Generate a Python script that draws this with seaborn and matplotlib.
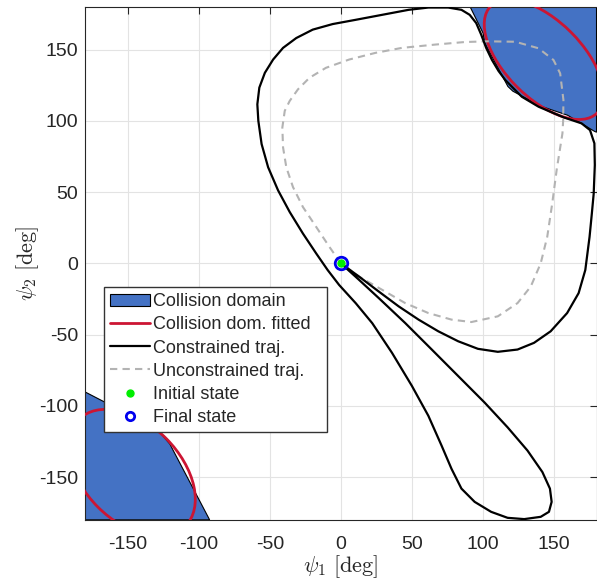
import numpy as np
import pandas as pd
import matplotlib
matplotlib.use("Agg")
import matplotlib.pyplot as plt
import seaborn as sns
from matplotlib.patches import Ellipse, Patch
from matplotlib.lines import Line2D

# collision domain polygons (deg)
dom_tr_x = [91, 100.1, 101.3, 117.6, 121.1, 141, 159.7, 178.6, 180, 180]
dom_tr_y = [180, 161.6, 154.6, 124.1, 120.8, 110.2, 103.9, 92.6, 92, 180]
dom_bl_x = [-180, -167, -145, -128, -120.4, -92.4, -180]
dom_bl_y = [-90.3, -97, -108, -118, -126.8, -180, -180]

# fitted ellipses: center, diagonal / anti-diagonal diameters
ell_centers = [(143, 143), (-147, -147)]
ell_diag = [54, 68]
ell_anti = [106, 106]

# constrained trajectory
con_x = [0, 12.8, 26.7, 45.3, 64, 82.6, 101.2, 117.4, 131.4, 141.9, 147.2, 148.4, 146.5,
         140.7, 129.1, 117.4, 105.8, 94.2, 84.9, 77.9, 70.9, 61.6, 50, 36, 22.1, 10.5,
         -1.2, -9.3, -17.4, -26.7, -36, -44.2, -51.2, -55.8, -58.1, -58.8, -57.4, -53.5,
         -47.7, -40.7, -31.4, -19.8, -5.8, 10.5, 29.1, 47.7, 61.6, 75.6, 84.9, 90.7, 95.3,
         98.8, 102.3, 106.4, 111, 115.8, 127.4, 139.2, 156.7, 169.5, 175.4, 178.5, 178.8,
         178, 176.7, 175.1, 172.1, 167.4, 159.3, 147.7, 136, 124.4, 110.5, 96.5, 82.6,
         68.6, 54.7, 40.7, 26.7, 12.8, 0]
con_y = [0, -11.6, -24.4, -41.9, -60.5, -79.1, -97.7, -115.1, -131.4, -146.5, -158.1,
         -167.4, -174.4, -177.9, -179.5, -178.6, -174.4, -167.4, -158.1, -144.2, -127.9,
         -107, -86, -62.8, -42, -28, -15.2, -4.7, 7, 20.9, 36, 51.2, 67.4, 83.7, 100, 111.6,
         123.3, 133.7, 143, 151.2, 158.1, 164, 167.9, 170.9, 174.4, 177.9, 179.5, 179.5,
         177.9, 174.4, 168.6, 160.5, 151.2, 142.7, 135, 128.6, 116.9, 109.9, 102.5, 98.2,
         93.5, 84.2, 69, 48.8, 34.9, 18.6, -4.7, -20.9, -34.9, -47.7, -55.8, -60.5, -62.1,
         -60, -54.7, -47.7, -39.5, -30.2, -19.8, -9.3, 0]

# unconstrained trajectory
unc_x = [0, -8.1, -17.4, -26.7, -33.7, -38.4, -40.7, -41.2, -39.5, -36, -30.2, -22.1,
         -10.5, 5.8, 24.4, 43, 66.3, 87.2, 103.5, 122.8, 139.2, 149.7, 154.4, 156.7, 156.5,
         156, 152, 148.8, 145.3, 140.7, 133.7, 124.4, 110.5, 91.9, 77.9, 61.6, 45.3, 29.1,
         12.8, 0]
unc_y = [0, 11.6, 25.6, 39.5, 53.5, 67.4, 81.4, 95.3, 107, 114, 122.1, 130.2, 137.2, 143,
         147.7, 151.2, 153.5, 155.3, 155.8, 155.5, 150.9, 142.7, 133.3, 114.6, 100, 91.2,
         66, 41.9, 18.6, 0, -16.3, -27.9, -37.2, -41.2, -39.5, -34.9, -27.9, -18.6, -9.3, 0]

init_state = (0, 0)
final_state = (0, 0)

ticks = [-150, -100, -50, 0, 50, 100, 150]

sns.set_style("white")
plt.rcParams['font.family'] = ['Liberation Sans', 'DejaVu Sans']
plt.rcParams['mathtext.fontset'] = 'cm'
plt.rcParams['axes.unicode_minus'] = False

blue = '#4472C4'
red = '#CC1533'
grey = '#B3B3B3'
axc = '#262626'

fig = plt.figure(figsize=(5.97, 5.84), dpi=100)
ax = fig.add_axes([0.1427, 0.1099, 0.8565, 0.8784])

ax.fill(dom_tr_x, dom_tr_y, facecolor=blue, edgecolor='k', lw=0.8, zorder=2)
ax.fill(dom_bl_x, dom_bl_y, facecolor=blue, edgecolor='k', lw=0.8, zorder=2)

for c, d, a in zip(ell_centers, ell_diag, ell_anti):
    ax.add_patch(Ellipse(c, width=d, height=a, angle=45, fill=False,
                         edgecolor=red, lw=2, zorder=3))

con = pd.DataFrame({'psi1': con_x, 'psi2': con_y})
unc = pd.DataFrame({'psi1': unc_x, 'psi2': unc_y})
sns.lineplot(data=unc, x='psi1', y='psi2', sort=False, estimator=None, color=grey,
             lw=1.5, linestyle=(0, (3.5, 2.5)), ax=ax, zorder=4)
sns.lineplot(data=con, x='psi1', y='psi2', sort=False, estimator=None, color='k',
             lw=1.6, ax=ax, zorder=5, solid_joinstyle='round')

ax.plot(*init_state, 'o', color='#00EE00', ms=5, zorder=6)
ax.plot(*final_state, 'o', mfc='none', mec='#0000EE', mew=2, ms=9, zorder=7)

ax.set_xlim(-180, 180)
ax.set_ylim(-180, 180)
ax.set_xticks(ticks)
ax.set_yticks(ticks)
ax.grid(True, color='#E3E3E3', lw=0.8)
ax.set_axisbelow(True)
for s in ax.spines.values():
    s.set_color(axc)
    s.set_linewidth(0.8)
ax.tick_params(direction='in', length=5, width=0.8, color=axc, labelcolor=axc,
               labelsize=14, top=True, right=True)
ax.tick_params(axis='x', pad=12)
ax.tick_params(axis='y', pad=5)
ax.set_xlabel(r'$\psi_1\ \mathrm{[deg]}$', fontsize=16, color=axc, labelpad=0)
ax.set_ylabel(r'$\psi_2\ \mathrm{[deg]}$', fontsize=16, color=axc, labelpad=-1)

handles = [
    Patch(facecolor=blue, edgecolor='k', lw=0.8, label='Collision domain'),
    Line2D([], [], color=red, lw=2, label='Collision dom. fitted'),
    Line2D([], [], color='k', lw=1.6, label='Constrained traj.'),
    Line2D([], [], color=grey, lw=1.5, ls=(0, (3.5, 2.5)), label='Unconstrained traj.'),
    Line2D([], [], ls='none', marker='o', color='#00EE00', ms=5, label='Initial state'),
    Line2D([], [], ls='none', marker='o', mfc='none', mec='#0000EE', mew=2, ms=6,
           label='Final state'),
]
leg = ax.legend(handles=handles, loc='upper left', bbox_to_anchor=(0.0368, 0.1711, 0.436, 0.2827),
                mode='expand', borderaxespad=0, fontsize=13, fancybox=False, framealpha=1,
                edgecolor='#333333', handlelength=2.2, handletextpad=0.15,
                labelspacing=0.34, borderpad=0.35)
leg.get_frame().set_linewidth(1.0)
leg.set_zorder(10)

plt.savefig('out.png', dpi=100)
